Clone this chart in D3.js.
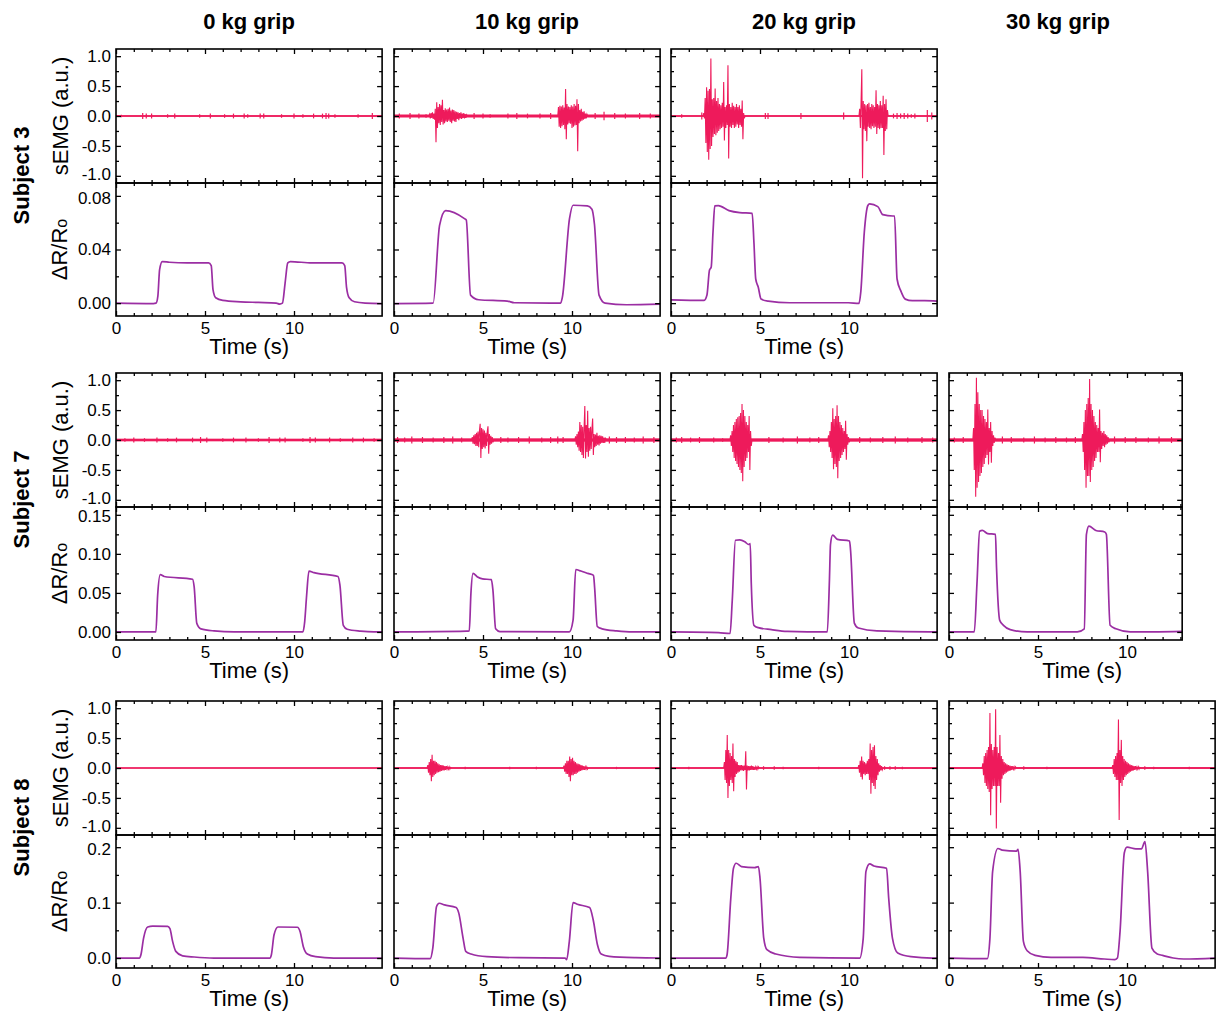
<!DOCTYPE html>
<html>
<head>
<meta charset="utf-8">
<script src="https://cdn.jsdelivr.net/npm/d3@7"></script>
<style>
  body { margin: 0; background: #fff; }
  svg { display: block; }
  text { font-family: "Liberation Sans", Arial, sans-serif; fill: #000; }
</style>
</head>
<body>
<svg id="fig" width="1219" height="1013"></svg>
<script>
// ---------- labels ----------
const subjects = ["Subject 3", "Subject 7", "Subject 8"];
const grips = ["0 kg grip", "10 kg grip", "20 kg grip", "30 kg grip"];

// ---------- axis ticks ----------
const timeTicks = [0, 5, 10];
const emgTicks = [-1.0, -0.5, 0.0, 0.5, 1.0];
const emgDomain = [-1.12, 1.12];
const drTicks = [[0.00, 0.04, 0.08], [0.00, 0.05, 0.10, 0.15], [0.0, 0.1, 0.2]];
const drDecimals = [2, 2, 1];
const drMinorStep = [0.02, 0.025, 0.05];
const drDomains = [[-0.0096, 0.0896], [-0.0103, 0.160], [-0.018, 0.222]];

// recording length (s) per subject / grip; null = not recorded
const timeSpans = [
  [14.95, 14.95, 14.95, null],
  [14.95, 14.95, 14.95, 13.1],
  [14.95, 14.95, 14.95, 14.95]
];
// sEMG baseline noise amplitude per subject / grip
const noiseFloors = [
  [0.012, 0.025, 0.012, null],
  [0.022, 0.028, 0.028, 0.028],
  [0.008, 0.012, 0.012, 0.014]
];

// ---------- ΔR/R0 traces: [time (s), ΔR/R0] ----------
const dr_s3_g0 = [[0,0],[2.1,-0.0003],[2.25,0],[2.35,0.005],[2.45,0.025],[2.6,0.031],[3,0.0305],[4,0.030],[5.2,0.030],[5.35,0.028],[5.45,0.01],[5.6,0.004],[6,0.002],[7,0.001],[8,0.0005],[9,0],[9.2,-0.0007],[9.35,0],[9.5,0.015],[9.65,0.030],[9.8,0.031],[11,0.030],[12.7,0.030],[12.85,0.028],[12.95,0.012],[13.1,0.004],[13.4,0.001],[14,0],[14.95,-0.0003]];
const dr_s3_g10 = [[0,-0.0003],[2.2,0],[2.56,0.058],[2.9,0.069],[3.96,0.063],[4.06,0.062],[4.3,0.006],[4.76,0.0025],[6.36,0.0015],[6.76,0.0003],[9.36,0],[9.46,0.0045],[9.86,0.063],[10.06,0.073],[10.86,0.0725],[11.12,0.070],[11.26,0.059],[11.52,0.006],[11.86,0],[13.06,-0.0012],[14.95,-0.0008]];
const dr_s3_g20 = [[0,0.0025],[1.86,0.002],[2.02,0.006],[2.16,0.0245],[2.26,0.027],[2.36,0.053],[2.46,0.0725],[2.66,0.0727],[3.26,0.069],[3.86,0.0675],[4.56,0.067],[4.66,0.045],[4.76,0.018],[4.9,0.012],[5.06,0.003],[5.46,0.0015],[6.66,0.0003],[9.96,0.0003],[10.56,-0.0002],[10.66,0.008],[10.86,0.053],[11.06,0.0728],[11.16,0.074],[11.62,0.072],[11.9,0.066],[12.46,0.065],[12.56,0.065],[12.7,0.018],[12.9,0.0095],[13.16,0.003],[13.56,0.0018],[14.26,0.0018],[14.95,0.0015]];

const dr_s7_g0 = [[0,0],[2.24,0],[2.34,0.047],[2.49,0.0735],[2.71,0.071],[4.3,0.0675],[4.39,0.058],[4.54,0.011],[4.77,0.004],[5.51,0.0013],[6.64,0],[10.5,0],[10.6,0.013],[10.71,0.047],[10.84,0.078],[11.12,0.076],[12.47,0.071],[12.58,0.06],[12.77,0.0085],[12.99,0.0034],[13.74,0.001],[14.49,0],[14.95,0]];
const dr_s7_g10 = [[0,0],[4.08,0.001],[4.23,0.0013],[4.32,0.049],[4.44,0.075],[4.67,0.0708],[4.97,0.068],[5.47,0.067],[5.56,0.053],[5.71,0.004],[5.95,0.0004],[9.85,0],[10.06,0.015],[10.21,0.08],[10.5,0.078],[10.89,0.075],[11.21,0.0725],[11.27,0.057],[11.42,0.007],[11.69,0.004],[12.51,0.0013],[13.4,0],[14.95,0]];
const dr_s7_g20 = [[0,0],[2.67,-0.0008],[3.32,-0.002],[3.44,0.04],[3.62,0.1174],[3.86,0.118],[4.15,0.1155],[4.36,0.112],[4.45,0.113],[4.51,0.062],[4.66,0.0085],[4.9,0.0055],[5.64,0.003],[6.53,0.0008],[8.78,0],[8.9,0.066],[8.96,0.112],[9.08,0.124],[9.35,0.1186],[10.03,0.1165],[10.09,0.104],[10.3,0.0114],[10.53,0.005],[11.57,0.0013],[14.54,0],[14.95,0]];
const dr_s7_g30 = [[0,0],[1.42,0],[1.57,0.0614],[1.72,0.129],[1.87,0.130],[2.17,0.126],[2.61,0.125],[2.67,0.0826],[2.85,0.0148],[3.06,0.0085],[3.44,0.003],[4.39,0],[7.21,0],[7.6,0.004],[7.72,0.125],[7.86,0.1356],[8.25,0.130],[8.75,0.128],[8.84,0.125],[9.05,0.0085],[9.38,0.004],[10.18,0],[13.1,0.0008]];

const dr_s8_g0 = [[0,0],[1.31,0],[1.4,0.006],[1.55,0.036],[1.78,0.056],[2.06,0.0576],[2.9,0.057],[3.03,0.053],[3.18,0.030],[3.36,0.012],[3.74,0.004],[4.39,0.0018],[5.51,0],[8.64,0],[8.73,0.006],[8.88,0.042],[9.1,0.056],[10.19,0.0555],[10.34,0.048],[10.52,0.021],[10.75,0.0073],[11.21,0.0024],[12.24,0],[14.95,0]];
const dr_s8_g10 = [[0,0],[2.03,-0.0012],[2.18,0.018],[2.39,0.093],[2.54,0.0988],[2.84,0.0958],[3.49,0.091],[3.64,0.081],[3.88,0.036],[4.03,0.012],[4.33,0.0072],[5.22,0.0024],[7.0,0.0006],[9.61,0],[9.7,-0.003],[9.85,0.03],[10.06,0.1],[10.3,0.097],[10.99,0.091],[11.19,0.069],[11.43,0.024],[11.64,0.0072],[12.09,0.003],[13.58,0.0006],[14.95,0]];
const dr_s8_g20 = [[0,0],[3.07,0],[3.15,0.006],[3.36,0.108],[3.51,0.162],[3.66,0.171],[3.96,0.165],[4.7,0.163],[4.91,0.165],[5.0,0.144],[5.21,0.036],[5.39,0.015],[5.89,0.0072],[7.23,0.0012],[10.6,0],[10.8,0.036],[10.95,0.156],[11.16,0.17],[11.4,0.166],[12.11,0.162],[12.23,0.108],[12.44,0.036],[12.74,0.009],[13.48,0.0024],[14.67,0],[14.95,0]];
const dr_s8_g30 = [[0,0],[2.15,-0.0012],[2.3,0.036],[2.45,0.156],[2.75,0.1976],[2.99,0.1946],[3.79,0.193],[3.88,0.196],[4.0,0.156],[4.18,0.03],[4.39,0.0132],[4.84,0.0048],[5.73,0.0012],[7.52,0.0012],[8.72,-0.0018],[9.31,-0.003],[9.46,0],[9.61,0.048],[9.85,0.19],[10.0,0.2],[10.5,0.197],[10.81,0.197],[11.01,0.21],[11.16,0.156],[11.4,0.018],[11.7,0.0072],[12.0,0.0048],[12.6,0],[13.19,-0.0018],[14.95,0]];

// ---------- sEMG bursts: start (s), sample step (s), sampled values (a.u.) ----------
const emg_s3_g10 = [
  {start: 2.00, step: 0.04, values: [0.03,-0.04,0.05,-0.03,0.06,-0.05,0.04,-0.06,0.12,-0.44,0.23,-0.2,0.15,-0.12,0.2,-0.15,0.18,-0.1,0.27,-0.14,0.1,-0.12,0.13,-0.09,0.11,-0.1,0.12,-0.08,0.14,-0.1,0.09,-0.12,0.11,-0.08,0.1,-0.09,0.08,-0.1,0.07,-0.05,0.06,-0.07,0.05,-0.04,0.06,-0.05,0.04,-0.03,0.05,-0.04,0.03,-0.03,0.02]},
  {start: 9.24, step: 0.04, values: [0.15,-0.18,0.17,-0.2,0.16,-0.17,0.18,-0.15,0.14,-0.22,0.45,-0.39,0.2,-0.14,0.16,-0.12,0.15,-0.13,0.18,-0.2,0.16,-0.18,0.2,-0.16,0.17,-0.15,0.28,-0.59,0.2,-0.12,0.1,-0.09,0.12,-0.08,0.07,-0.06,0.08,-0.05,0.04,-0.04,0.03]}
];
const emg_s3_g20 = [
  {start: 1.84, step: 0.04, values: [0.05,-0.04,0.3,-0.45,0.48,-0.6,0.42,-0.73,0.45,-0.55,0.96,-0.5,0.28,-0.35,0.3,-0.3,0.46,-0.32,0.25,-0.28,0.3,-0.25,0.2,-0.22,0.18,-0.2,0.22,-0.18,0.57,-0.41,0.15,-0.2,0.18,-0.15,0.85,-0.71,0.2,-0.18,0.15,-0.2,0.22,-0.15,0.17,-0.2,0.15,-0.18,0.2,-0.14,0.15,-0.2,0.18,-0.15,0.12,-0.18,0.26,-0.39,0.05,-0.04]},
  {start: 10.60, step: 0.04, values: [0.12,-0.2,0.25,0.78,-1.04,0.25,-0.22,0.2,-0.25,0.18,-0.42,0.2,-0.18,0.22,-0.2,0.15,-0.22,0.2,-0.17,0.18,-0.2,0.15,-0.18,0.43,-0.3,0.2,-0.2,0.18,-0.22,0.25,-0.2,0.18,-0.2,0.34,-0.65,0.2,-0.25,0.28,-0.22,0.1]}
];
const emg_s7_g10 = [
  {start: 4.40, step: 0.04, values: [0.05,-0.06,0.08,-0.07,0.1,-0.1,0.12,-0.1,0.14,-0.12,0.15,0.27,-0.3,0.2,-0.15,0.18,-0.12,0.16,-0.14,0.12,-0.1,0.14,0.23,-0.23,0.1,-0.08,0.07,-0.06,0.05,-0.04]},
  {start: 10.20, step: 0.04, values: [0.06,-0.08,0.1,-0.12,0.14,-0.18,0.3,-0.2,0.25,-0.25,0.22,-0.3,0.2,0.57,-0.31,0.25,-0.2,0.49,-0.28,0.2,-0.18,0.22,-0.15,0.18,0.36,-0.25,0.1,-0.12,0.09,-0.1,0.12,-0.08,0.07,-0.09,0.08,-0.06,0.07,-0.05,0.06,-0.05,0.04,-0.05,0.04]}
];
const emg_s7_g20 = [
  {start: 3.35, step: 0.04, values: [0.08,-0.1,0.15,-0.2,0.25,-0.3,0.3,-0.35,0.35,-0.4,0.38,-0.45,0.4,-0.5,0.45,-0.55,0.6,-0.69,0.5,-0.45,0.4,-0.35,0.3,-0.3,0.25,-0.2,0.4,-0.5,0.15,-0.1]},
  {start: 8.85, step: 0.04, values: [0.08,-0.12,0.15,-0.2,0.3,-0.3,0.53,-0.49,0.35,-0.4,0.4,-0.45,0.58,-0.64,0.4,-0.35,0.3,-0.3,0.25,-0.25,0.2,-0.2,0.15,-0.15,0.32,-0.33,0.1,-0.08,0.05,-0.04]}
];
const emg_s7_g30 = [
  {start: 1.38, step: 0.04, values: [0.2,-0.5,0.6,-0.95,1.04,-0.8,0.8,-0.7,0.6,-0.6,0.5,-0.55,0.5,-0.45,0.4,-0.4,0.35,-0.3,0.3,-0.25,0.51,-0.41,0.2,-0.2,0.3,-0.38,0.15,-0.1,0.08,-0.05,0.04]},
  {start: 7.50, step: 0.04, values: [0.1,-0.2,0.3,-0.5,0.5,-0.8,0.6,-0.6,0.7,-0.6,1.02,-0.7,0.6,-0.5,0.5,-0.45,0.4,-0.35,0.3,-0.3,0.25,-0.2,0.2,-0.2,0.51,-0.37,0.15,-0.15,0.12,-0.1,0.15,-0.12,0.1,-0.08,0.08,-0.06,0.05,-0.04]}
];
const emg_s8_g10 = [
  {start: 1.90, step: 0.04, values: [0.05,-0.08,0.1,-0.12,0.15,-0.22,0.22,-0.15,0.12,-0.12,0.12,-0.1,0.1,-0.08,0.08,-0.07,0.06,-0.06,0.05,-0.05,0.05,-0.04,0.04,-0.04,0.03,-0.03,0.03,-0.02,0.02,-0.02,0.02,-0.02,0.01]},
  {start: 9.55, step: 0.04, values: [0.04,-0.06,0.08,-0.1,0.12,-0.1,0.12,-0.15,0.19,-0.22,0.15,-0.12,0.17,-0.12,0.12,-0.1,0.1,-0.1,0.08,-0.08,0.07,-0.06,0.06,-0.05,0.05,-0.04,0.04,-0.03,0.03,-0.03,0.02,-0.02,0.02,-0.02]}
];
const emg_s8_g20 = [
  {start: 3.00, step: 0.04, values: [0.1,-0.2,0.3,-0.25,0.55,-0.5,0.3,-0.3,0.25,-0.2,0.2,-0.25,0.41,-0.39,0.15,-0.15,0.12,-0.1,0.1,-0.08,0.05,-0.06,0.05,-0.04,0.05,-0.04,0.04,-0.05,0.04,-0.03,0.28,-0.36,0.04,-0.04,0.03,-0.04,0.03,-0.03,0.04,-0.03,0.03,-0.03,0.02,-0.03,0.02,-0.02,0.02,-0.02,0.02]},
  {start: 10.55, step: 0.04, values: [0.05,-0.08,0.12,-0.15,0.19,-0.19,0.12,-0.1,0.1,-0.12,0.08,-0.1,0.12,-0.1,0.15,-0.2,0.41,-0.43,0.3,-0.25,0.35,-0.3,0.38,-0.35,0.2,-0.2,0.15,-0.12,0.08,-0.06,0.05,-0.04,0.03,-0.03]}
];
const emg_s8_g30 = [
  {start: 1.90, step: 0.04, values: [0.08,-0.12,0.2,-0.25,0.25,-0.3,0.3,-0.35,0.35,-0.4,0.92,-0.79,0.4,-0.35,0.3,-0.3,0.35,-0.3,0.98,-1.01,0.35,-0.3,0.25,-0.3,0.55,-0.58,0.2,-0.18,0.15,-0.12,0.1,-0.1,0.08,-0.08,0.06,-0.06,0.05,-0.05,0.04,-0.04,0.03,-0.03,0.03,-0.02,0.02,-0.02,0.02]},
  {start: 9.20, step: 0.04, values: [0.05,-0.1,0.15,-0.15,0.2,-0.2,0.25,-0.2,0.81,-0.87,0.3,-0.25,0.47,-0.3,0.2,-0.2,0.15,-0.15,0.12,-0.12,0.1,-0.1,0.08,-0.08,0.06,-0.06,0.05,-0.05,0.04,-0.04,0.03,-0.03,0.03,-0.02,0.02,-0.02,0.02,-0.02,0.01]}
];

// ---------- isolated sEMG spikes at rest: [time (s), amplitude] ----------
const blips_s3_g0 = [[0.3,0.02],[1.5,0.05],[1.7,0.04],[2.0,0.04],[2.9,0.03],[3.3,0.04],[4.7,0.03],[5.3,0.04],[6.1,0.03],[6.6,0.04],[7.2,0.04],[7.4,0.03],[8.1,0.04],[8.3,0.04],[9.3,0.03],[10.0,0.04],[10.5,0.03],[11.1,0.04],[11.6,0.04],[11.8,0.05],[11.95,0.04],[12.3,0.03],[13.6,0.03],[14.4,0.05]];
const blips_s3_g10 = [[0.3,0.04],[0.9,0.05],[1.4,0.04],[1.8,0.03],[4.5,0.05],[5.0,0.04],[5.4,0.03],[6.4,0.04],[6.9,0.05],[7.5,0.04],[8.2,0.04],[8.8,0.05],[11.3,0.05],[11.8,0.07],[12.4,0.05],[13.0,0.04],[13.8,0.05],[14.4,0.04]];
const blips_s3_g20 = [[0.6,0.03],[1.73,0.06],[5.3,0.05],[5.45,0.05],[7.3,0.05],[9.7,0.06],[12.5,0.04],[12.7,0.05],[12.9,0.04],[13.1,0.05],[13.3,0.04],[13.5,0.03],[13.7,0.04],[14.4,0.1],[14.65,0.06]];
const blips_s7_g0 = [[0.5,0.03],[1.0,0.04],[1.6,0.03],[2.3,0.04],[2.9,0.03],[3.4,0.04],[4.3,0.04],[4.75,0.05],[5.1,0.04],[6.0,0.03],[6.6,0.04],[7.3,0.04],[8.0,0.03],[8.6,0.05],[9.2,0.04],[9.5,0.04],[10.5,0.03],[10.9,0.05],[11.2,0.04],[12.0,0.04],[12.6,0.03],[13.3,0.04],[13.9,0.04],[14.5,0.03]];
const blips_s7_g10 = [[0.2,0.05],[0.6,0.04],[1.0,0.06],[1.6,0.05],[2.2,0.04],[2.8,0.05],[3.3,0.06],[3.8,0.04],[6.0,0.05],[6.4,0.04],[7.0,0.05],[7.6,0.06],[8.3,0.04],[8.8,0.05],[9.2,0.06],[9.5,0.05],[12.1,0.06],[12.5,0.05],[13.0,0.05],[13.5,0.04],[14.0,0.06],[14.6,0.05]];
const blips_s7_g20 = [[0.3,0.04],[0.6,0.05],[1.1,0.04],[1.6,0.05],[2.4,0.04],[2.9,0.03],[5.5,0.05],[6.3,0.04],[7.1,0.06],[7.8,0.04],[8.3,0.05],[10.6,0.05],[11.2,0.04],[11.9,0.05],[12.6,0.06],[13.3,0.04],[14.1,0.05],[14.7,0.04]];
const blips_s7_g30 = [[0.3,0.04],[0.8,0.05],[3.0,0.06],[3.5,0.05],[4.2,0.04],[4.8,0.06],[5.4,0.04],[6.0,0.05],[6.6,0.04],[7.1,0.05],[9.3,0.06],[9.9,0.05],[10.5,0.05],[11.2,0.04],[11.8,0.06],[12.5,0.05]];
const blips_s8_g0 = [];
const blips_s8_g10 = [[4.0,0.02],[6.5,0.02],[8.0,0.02],[12.5,0.02]];
const blips_s8_g20 = [[1.0,0.02],[5.2,0.03],[5.8,0.03],[6.3,0.02],[8.3,0.02],[12.0,0.03],[12.3,0.03],[12.6,0.03],[13.0,0.02]];
const blips_s8_g30 = [[4.2,0.03],[5.5,0.02],[11.0,0.03],[11.5,0.02],[13.5,0.02]];

// subject x grip table of traces
const drTraces = [
  [dr_s3_g0, dr_s3_g10, dr_s3_g20, null],
  [dr_s7_g0, dr_s7_g10, dr_s7_g20, dr_s7_g30],
  [dr_s8_g0, dr_s8_g10, dr_s8_g20, dr_s8_g30]
];
const emgBursts = [
  [[], emg_s3_g10, emg_s3_g20, null],
  [[], emg_s7_g10, emg_s7_g20, emg_s7_g30],
  [[], emg_s8_g10, emg_s8_g20, emg_s8_g30]
];
const emgBlips = [
  [blips_s3_g0, blips_s3_g10, blips_s3_g20, null],
  [blips_s7_g0, blips_s7_g10, blips_s7_g20, blips_s7_g30],
  [blips_s8_g0, blips_s8_g10, blips_s8_g20, blips_s8_g30]
];

// ---------- layout ----------
const PX_PER_S = 17.8;
const FULL_SPAN = 14.95;
const colX = [116, 394, 671, 949];
const headerX = [249, 527, 804, 1058];
const rowTop = [49, 373, 701];
const EMG_H = 134, DR_H = 133;
const EMG_COLOR = "#ee1a5b";
const DR_COLOR = "#9b2ea3";
const FONT = "'Liberation Sans', Arial, sans-serif";

const svg = d3.select("#fig");
const defs = svg.append("defs");

// column headers
svg.selectAll("text.grip").data(grips).join("text")
  .attr("class", "grip")
  .attr("x", (d, i) => headerX[i]).attr("y", 29)
  .attr("text-anchor", "middle")
  .style("font", `bold 22px ${FONT}`)
  .text(d => d);

let clipId = 0;
function clip(x0, y0, w, h) {
  const id = "clip" + (clipId++);
  defs.append("clipPath").attr("id", id)
    .append("rect").attr("x", x0).attr("y", y0).attr("width", w).attr("height", h);
  return `url(#${id})`;
}

function styleAxis(g) {
  g.select(".domain").remove();
  g.selectAll(".tick line").attr("stroke", "#000").attr("stroke-width", 1.3);
  g.selectAll(".tick text").style("font", `17px ${FONT}`).attr("fill", "#000");
}

// inward ticks on all four sides of a box
function boxTicks(g, x, y, yTopPx, yBotPx, xMajor, xMinor, yMajor, yMinor) {
  const left = x.range()[0], right = x.range()[1];
  [[xMajor, 5], [xMinor, 3]].forEach(([vals, len]) => {
    g.append("g").attr("transform", `translate(0,${yTopPx})`)
      .call(d3.axisTop(x).tickValues(vals).tickSize(-len).tickFormat("")).call(styleAxis);
    g.append("g").attr("transform", `translate(0,${yBotPx})`)
      .call(d3.axisBottom(x).tickValues(vals).tickSize(-len).tickFormat("")).call(styleAxis);
  });
  [[yMajor, 5], [yMinor, 3]].forEach(([vals, len]) => {
    g.append("g").attr("transform", `translate(${left},0)`)
      .call(d3.axisLeft(y).tickValues(vals).tickSize(-len).tickFormat("")).call(styleAxis);
    g.append("g").attr("transform", `translate(${right},0)`)
      .call(d3.axisRight(y).tickValues(vals).tickSize(-len).tickFormat("")).call(styleAxis);
  });
}

const fmt = n => d => (d < 0 ? "-" : "") + Math.abs(d).toFixed(n);

subjects.forEach((subj, r) => {
  const top = rowTop[r];
  const emgTop = top, emgBot = top + EMG_H;
  const drTop = emgBot, drBot = emgBot + DR_H;

  // row label and y-axis titles
  svg.append("text")
    .attr("transform", `translate(29,${(emgTop + drBot) / 2 - 7}) rotate(-90)`)
    .attr("text-anchor", "middle")
    .style("font", `bold 22px ${FONT}`).text(subj);
  svg.append("text")
    .attr("transform", `translate(68,${(emgTop + emgBot) / 2}) rotate(-90)`)
    .attr("text-anchor", "middle")
    .style("font", `22px ${FONT}`).text("sEMG (a.u.)");
  const drt = svg.append("text")
    .attr("transform", `translate(67,${(drTop + drBot) / 2}) rotate(-90)`)
    .attr("text-anchor", "middle")
    .style("font", `22px ${FONT}`);
  drt.append("tspan").text("\u0394R/R");
  drt.append("tspan").style("font-size", "16px").text("o");

  grips.forEach((grip, c) => {
    const span = timeSpans[r][c];
    if (span == null) return;
    const x0 = colX[c];
    const x = d3.scaleLinear().domain([0, span]).range([x0, x0 + span * PX_PER_S]);
    const w = span * PX_PER_S;
    const yE = d3.scaleLinear().domain(emgDomain).range([emgBot, emgTop]);
    const yR = d3.scaleLinear().domain(drDomains[r]).range([drBot, drTop]);
    const g = svg.append("g");

    // ---- sEMG ----
    const ge = g.append("g").attr("clip-path", clip(x0, emgTop, w, EMG_H));
    const floor = noiseFloors[r][c];
    ge.append("rect")
      .attr("x", x(0)).attr("width", x(span) - x(0))
      .attr("y", yE(floor)).attr("height", Math.max(yE(-floor) - yE(floor), 0))
      .attr("fill", EMG_COLOR);
    ge.append("line")
      .attr("x1", x(0)).attr("x2", x(span)).attr("y1", yE(0)).attr("y2", yE(0))
      .attr("stroke", EMG_COLOR).attr("stroke-width", 1.3);
    ge.selectAll("line.blip").data(emgBlips[r][c]).join("line")
      .attr("class", "blip")
      .attr("x1", d => x(d[0])).attr("x2", d => x(d[0]))
      .attr("y1", d => yE(d[1])).attr("y2", d => yE(-d[1]))
      .attr("stroke", EMG_COLOR).attr("stroke-width", 1.2);
    const emgLine = d3.line().x(d => x(d[0])).y(d => yE(d[1]));
    emgBursts[r][c].forEach(b => {
      const pts = [[b.start - b.step, 0]]
        .concat(b.values.map((v, i) => [b.start + i * b.step, v]))
        .concat([[b.start + b.values.length * b.step, 0]]);
      ge.append("path").attr("d", emgLine(pts))
        .attr("fill", "none").attr("stroke", EMG_COLOR)
        .attr("stroke-width", 1.1).attr("stroke-linejoin", "miter");
    });

    // ---- ΔR/R0 ----
    const gr = g.append("g").attr("clip-path", clip(x0, drTop, w, DR_H));
    gr.append("path")
      .attr("d", d3.line().curve(d3.curveMonotoneX).x(d => x(d[0])).y(d => yR(d[1]))(drTraces[r][c]))
      .attr("fill", "none").attr("stroke", DR_COLOR)
      .attr("stroke-width", 1.7).attr("stroke-linejoin", "round");

    // ---- frames ----
    [[emgTop, EMG_H], [drTop, DR_H]].forEach(([yy, hh]) => {
      g.append("rect").attr("x", x0).attr("y", yy).attr("width", w).attr("height", hh)
        .attr("fill", "none").attr("stroke", "#000").attr("stroke-width", 1.6);
    });

    // ---- ticks ----
    const xMinor = d3.range(1, span, 1).filter(t => t % 5 !== 0);
    const emgMinor = [-0.75, -0.25, 0.25, 0.75];
    boxTicks(g, x, yE, emgTop, emgBot, timeTicks, xMinor, emgTicks, emgMinor);
    const drMax = drTicks[r][drTicks[r].length - 1];
    const drMinor = d3.range(0, drMax + 1e-9, drMinorStep[r])
      .filter(v => !drTicks[r].some(t => Math.abs(t - v) < 1e-9));
    boxTicks(g, x, yR, drTop, drBot, timeTicks, xMinor, drTicks[r], drMinor);

    // ---- tick labels ----
    g.append("g").attr("transform", `translate(0,${drBot})`)
      .call(d3.axisBottom(x).tickValues(timeTicks).tickSize(0).tickPadding(6).tickFormat(d3.format("d")))
      .call(styleAxis);
    g.append("text")
      .attr("x", x0 + FULL_SPAN * PX_PER_S / 2).attr("y", drBot + 38)
      .attr("text-anchor", "middle")
      .style("font", `22px ${FONT}`).text("Time (s)");

    if (c === 0) {
      const ea = g.append("g").attr("transform", `translate(${x0},0)`)
        .call(d3.axisLeft(yE).tickValues(emgTicks).tickSize(0).tickPadding(5).tickFormat(fmt(1)))
        .call(styleAxis);
      // keep the lowest sEMG label clear of the ΔR/R0 label just below it
      ea.selectAll(".tick").filter(d => d === emgTicks[0]).select("text").attr("dy", "0.22em");
      const ra = g.append("g").attr("transform", `translate(${x0},0)`)
        .call(d3.axisLeft(yR).tickValues(drTicks[r]).tickSize(0).tickPadding(5).tickFormat(fmt(drDecimals[r])))
        .call(styleAxis);
      ra.selectAll(".tick").filter(d => d === drMax).select("text").attr("dy", "0.42em");
    }
  });
});
</script>
</body>
</html>
